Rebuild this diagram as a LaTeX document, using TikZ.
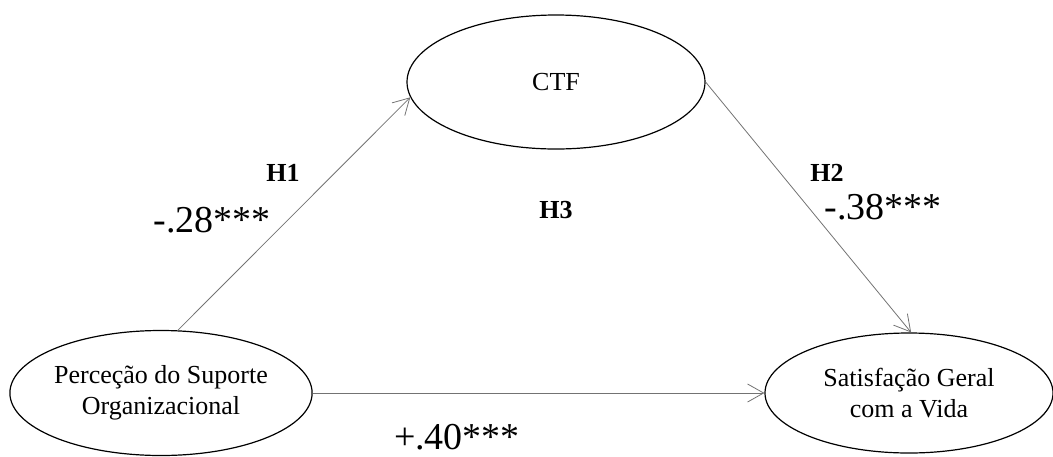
\documentclass[tikz,border=0pt]{standalone}
\usepackage{fontspec}
\setmainfont{Liberation Serif}
\usetikzlibrary{shapes.geometric,arrows.meta}
\begin{document}
\begin{tikzpicture}[x=1pt,y=-1pt,
  latent/.style={draw=black,line width=1.2pt,ellipse,inner sep=0pt,align=center,font=\fontsize{26}{31}\selectfont},
  path/.style={draw=black!55,line width=0.8pt,-{Straight Barb[length=16pt,width=18pt,line width=0.8pt]}},
  hyp/.style={font=\fontsize{26}{30}\selectfont\bfseries},
  coef/.style={font=\fontsize{38}{40}\selectfont}]
\useasboundingbox (0,0) rectangle (1053,456);
\node[latent,minimum width=298pt,minimum height=134pt] (ctf) at (556,82) {CTF};
\node[latent,minimum width=298pt,minimum height=125pt] (psa) at (161,393) {Perceção do Suporte\\Organizacional};
\node[latent,minimum width=288pt,minimum height=120pt] (sgv) at (909,393) {Satisfação Geral\\com a Vida};
\draw[path] (psa.75) -- (ctf.186);
\draw[path] (ctf.east) -- (sgv.88);
\draw[path] (psa.east) -- (sgv.west);
\node[hyp] (h1) at (283,173) {H1};
\node[coef] (c1) at (212,220) {-.28***};
\node[hyp] (h2) at (827,173) {H2};
\node[coef] (c2) at (883,207) {-.38***};
\node[hyp] (h3) at (556,210) {H3};
\node[coef] (c3) at (457,437) {+.40***};
\end{tikzpicture}
\end{document}
